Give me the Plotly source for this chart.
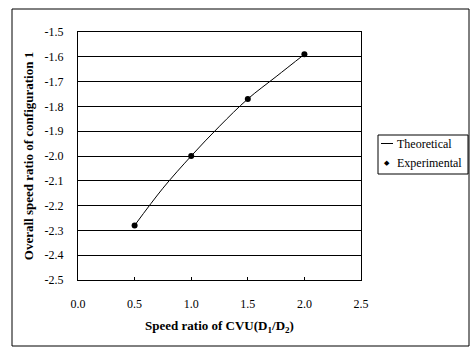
import plotly.graph_objects as go

theory_x = [0.5, 0.75, 1.0, 1.25, 1.5, 1.75, 2.0]
theory_y = [-2.28, -2.13, -2.00, -1.88, -1.77, -1.68, -1.59]
exp_x = [0.5, 1.0, 1.5, 2.0]
exp_y = [-2.28, -2.00, -1.77, -1.59]
y_ticks = [-1.5, -1.6, -1.7, -1.8, -1.9, -2.0, -2.1, -2.2, -2.3, -2.4, -2.5]
x_ticks = [0.0, 0.5, 1.0, 1.5, 2.0, 2.5]
legend_labels = ["Theoretical", "Experimental"]

font = "Liberation Serif, Times New Roman, serif"
L, R, T, B, W, H = 78, 111, 32, 68, 472, 348
PW, PH = W - L - R, H - T - B


def px(x):
    return (x - L) / PW


def py(y):
    return (H - B - y) / PH


fig = go.Figure()
fig.add_trace(go.Scatter(x=theory_x, y=theory_y, mode="lines", name=legend_labels[0],
                         line=dict(color="black", width=1, shape="spline"), showlegend=False))
fig.add_trace(go.Scatter(x=exp_x, y=exp_y, mode="markers", name=legend_labels[1],
                         marker=dict(color="black", size=6, symbol="circle"), showlegend=False))

fig.update_layout(
    width=W, height=H,
    margin=dict(l=L, r=R, t=T, b=B),
    paper_bgcolor="white", plot_bgcolor="white",
    font=dict(family=font, size=12, color="black"),
    showlegend=False,
)
fig.update_xaxes(range=[0, 2.5], tickvals=x_ticks, ticktext=[f"{v:.1f}" for v in x_ticks],
                 showgrid=False, zeroline=False, showline=True, linecolor="black",
                 linewidth=1, mirror=True, ticks="inside", ticklen=3, tickcolor="black",
                 ticklabelstandoff=13, tickfont=dict(family=font, size=12),
                 title=dict(text="<b>Speed ratio of CVU(D<sub>1</sub>/D<sub>2</sub>)</b>",
                            font=dict(family=font, size=13), standoff=10))
fig.update_yaxes(range=[-2.5, -1.5], tickvals=y_ticks, ticktext=[f"{v:.1f}" for v in y_ticks],
                 showgrid=True, gridcolor="black", gridwidth=1, zeroline=False,
                 showline=True, linecolor="black", linewidth=1, mirror=True,
                 ticks="", ticklabelstandoff=11, tickfont=dict(family=font, size=12),
                 title=dict(text="<b>Overall speed ratio of configuration 1</b>",
                            font=dict(family=font, size=13), standoff=8))

# outer chart frame
fig.add_shape(type="rect", xref="paper", yref="paper",
              x0=px(12), x1=px(469), y0=py(346), y1=py(9),
              line=dict(color="black", width=1), fillcolor="rgba(0,0,0,0)", layer="below")

# legend box
fig.add_shape(type="rect", xref="paper", yref="paper",
              x0=px(378), x1=px(468), y0=py(174), y1=py(135),
              line=dict(color="black", width=1), fillcolor="white")
fig.add_shape(type="line", xref="paper", yref="paper",
              x0=px(381), x1=px(393), y0=py(143.5), y1=py(143.5),
              line=dict(color="black", width=1))
fig.add_annotation(xref="paper", yref="paper", x=px(387), y=py(163), text="◆",
                   showarrow=False, font=dict(family="DejaVu Sans", size=7, color="black"),
                   xanchor="center", yanchor="middle")
fig.add_annotation(xref="paper", yref="paper", x=px(395), y=py(143.5), text=legend_labels[0],
                   showarrow=False, font=dict(family=font, size=12, color="black"),
                   xanchor="left", yanchor="middle")
fig.add_annotation(xref="paper", yref="paper", x=px(395), y=py(163), text=legend_labels[1],
                   showarrow=False, font=dict(family=font, size=12, color="black"),
                   xanchor="left", yanchor="middle")

fig.write_html("out.html")
